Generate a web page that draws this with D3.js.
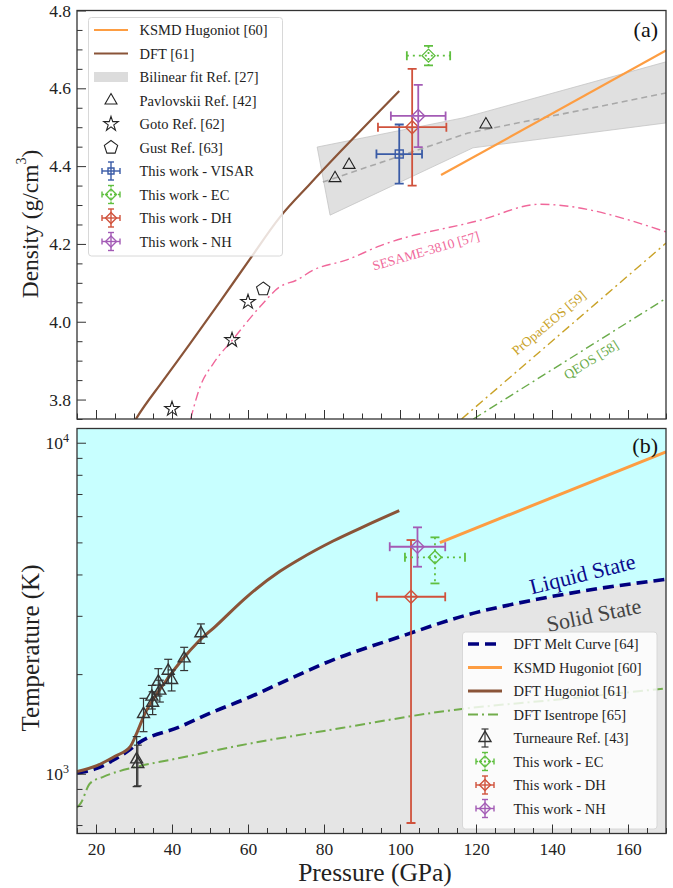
<!DOCTYPE html>
<html>
<head>
<meta charset="utf-8">
<script src="https://cdn.jsdelivr.net/npm/d3@7"></script>
<style>
  body { margin: 0; background: #fff; }
  svg text { font-family: "Liberation Serif", "DejaVu Serif", serif; }
</style>
</head>
<body>
<svg id="chart" width="673" height="888"></svg>
<script>
// ---------- Panel (a): density vs pressure ----------
const ksmdDensity = [[110.8, 4.377], [170, 4.697]];
const dftDensity = [[30.2, 3.745], [30.7, 3.753], [37.6, 3.848], [44.7, 3.943], [52.6, 4.051], [60.5, 4.161],
                    [68.4, 4.269], [76.3, 4.354], [84.2, 4.436], [92.1, 4.516], [99.8, 4.593]];
const bilinearUpper = [[78.2, 4.449], [116.6, 4.524], [170, 4.668]];
const bilinearLower = [[81.6, 4.274], [119.2, 4.447], [170, 4.511]];
const bilinearFit = [[79.7, 4.359], [117.9, 4.485], [170, 4.588]];
const pavlovskii = [[82.9, 4.369], [86.6, 4.403], [122.6, 4.507]];
const gotoPts = [[40.0, 3.776], [55.8, 3.953], [60.0, 4.051]];
const gustPts = [[64.0, 4.084]];
const sesame = [[44.9, 3.75], [47.4, 3.833], [50.9, 3.893], [55.9, 3.953], [63.2, 4.039], [68.4, 4.09],
                [72.8, 4.107], [77.2, 4.133], [86.0, 4.159], [94.7, 4.195], [121.1, 4.261], [136.8, 4.302], [170, 4.231]];
const propacEos = [[116.2, 3.75], [170, 4.202]];
const qeos = [[119.3, 3.75], [170, 4.06]];
// this work: [pressure, pressure error, density, density error]
const visarDensity = [99.8, 6.0, 4.431, 0.076];
const ecDensity = [107.5, 5.7, 4.684, 0.025];
const dhDensity = [103.2, 9.0, 4.50, 0.15];
const nhDensity = [104.8, 7.2, 4.529, 0.08];
const modelLabelsA = [
  { text: "SESAME-3810 [57]", p: 106.8, v: 4.182, angle: -16, color: "#f0679a" },
  { text: "PrOpacEOS [59]", p: 139.2, v: 3.997, angle: -40, color: "#c9a227" },
  { text: "QEOS [58]", p: 150.3, v: 3.902, angle: -32, color: "#6aab4a" }
];
const legendA = ["KSMD Hugoniot [60]", "DFT [61]", "Bilinear fit Ref. [27]", "Pavlovskii Ref. [42]",
                 "Goto Ref. [62]", "Gust Ref. [63]", "This work - VISAR", "This work - EC",
                 "This work - DH", "This work - NH"];

// ---------- Panel (b): temperature vs pressure ----------
const meltCurve = [[15, 1005], [20.2, 1038], [24.6, 1100], [29, 1185], [30.2, 1215], [31.1, 1236], [42.1, 1387],
                   [50.9, 1539], [59.7, 1690], [68.4, 1876], [81.6, 2190], [100, 2594], [117.6, 3017],
                   [135.1, 3348], [152.6, 3631], [170, 3867]];
const ksmdTemp = [[110.5, 4990], [170, 9390]];
const dftHugTemp = [[15, 1015], [20.2, 1058], [25, 1130], [29, 1207], [30.7, 1324], [32.9, 1522], [35.5, 1709],
                    [39.0, 1950], [42.6, 2206], [46.9, 2505], [51.3, 2780], [59.7, 3425], [68.4, 4087],
                    [73.7, 4456], [82.4, 5047], [91.3, 5636], [99.8, 6232]];
const isentrope = [[15, 790], [16, 815], [18.4, 935], [21.9, 979], [30.7, 1050], [40, 1104], [59.7, 1229],
                   [85, 1377], [110.5, 1539], [144.7, 1690], [170, 1811]];
// Turneaure: [pressure, temperature, temperature error]
const turneaure = [[47.6, 2656, 180], [43.2, 2230, 180], [39.0, 2047, 170], [39.9, 1919, 140], [36.4, 1897, 180],
                   [36.8, 1782, 135], [34.7, 1709, 140], [34.9, 1639, 130], [32.5, 1515, 175],
                   [30.7, 1105, 190], [31.0, 1070, 150]];
// this work: [pressure, pressure error, temperature, lower T, upper T]
const ecTemp = [109.2, 7.9, 4507, 3758, 5178];
const dhTemp = [102.9, 9.0, 3425, 710, 5082];
const nhTemp = [104.6, 7.3, 4851, 4221, 5551];
const stateLabels = [
  { text: "Liquid State", p: 148.0, T: 4012, angle: -14, color: "#0a0a8c" },
  { text: "Solid State", p: 151.0, T: 3017, angle: -11.5, color: "#444444" }
];
const legendB = ["DFT Melt Curve [64]", "KSMD Hugoniot [60]", "DFT Hugoniot [61]", "DFT Isentrope [65]",
                 "Turneaure Ref. [43]", "This work - EC", "This work - DH", "This work - NH"];

const xMajor = [20, 40, 60, 80, 100, 120, 140, 160];
const yMajorA = [3.8, 4.0, 4.2, 4.4, 4.6, 4.8];
const yMajorB = [1000, 10000];
const yMinorB = [700, 800, 900, 2000, 3000, 4000, 5000, 6000, 7000, 8000, 9000];

// ---------- colours ----------
const C = {
  orange: "#fd9d42", brown: "#8a5438", blue: "#3a5ba6", green: "#5fbf3f", red: "#d0523c",
  purple: "#a35bb5", navy: "#00007f", isen: "#72ad4c", cyan: "#c8ffff", solid: "#e5e5e5", axis: "#333"
};

const svg = d3.select("#chart");
const L = 77, R = 666;
const topA = 10.5, botA = 419, topB = 428.5, botB = 833.5;

const x = d3.scaleLinear().domain([15, 170]).range([L, R]);
const yA = d3.scaleLinear().domain([3.75, 4.8]).range([botA, topA]);
const yB = d3.scaleLog().domain([660, 11040]).range([botB, topB]);

const defs = svg.append("defs");
defs.append("clipPath").attr("id", "clipA").append("rect")
  .attr("x", L).attr("y", topA).attr("width", R - L).attr("height", botA - topA);
defs.append("clipPath").attr("id", "clipB").append("rect")
  .attr("x", L).attr("y", topB).attr("width", R - L).attr("height", botB - topB);

// ---------- helpers ----------
function diamondPath(r) { return `M0,${-r}L${r},0L0,${r}L${-r},0Z`; }
function pentagonPath(r) {
  const pts = d3.range(5).map(i => { const a = -Math.PI / 2 + i * 2 * Math.PI / 5; return [r * Math.cos(a), r * Math.sin(a)]; });
  return "M" + pts.map(p => p.join(",")).join("L") + "Z";
}
const triPath = d3.symbol(d3.symbolTriangle, 62)();
const starPath = d3.symbol(d3.symbolStar, 66)();
const squarePath = "M-4,-4H4V4H-4Z";

function marker(g, cx, cy, path, color, w) {
  g.append("path").attr("d", path).attr("transform", `translate(${cx},${cy})`)
    .attr("fill", "none").attr("stroke", color).attr("stroke-width", w || 1.3);
}

// cross-shaped error bar in pixel coordinates
function errCross(g, cx, cy, x0, x1, y0, y1, color, opts) {
  const o = Object.assign({ cap: 4.5, w: 1.8, dash: null, path: null }, opts || {});
  const h = g.append("g").attr("stroke", color).attr("stroke-width", o.w).attr("fill", "none");
  const seg = (a, b, c, d, dashed) => {
    const l = h.append("line").attr("x1", a).attr("y1", b).attr("x2", c).attr("y2", d);
    if (dashed && o.dash) l.attr("stroke-dasharray", o.dash);
  };
  if (x0 !== null) {
    seg(x0, cy, x1, cy, true);
    seg(x0, cy - o.cap, x0, cy + o.cap, false);
    seg(x1, cy - o.cap, x1, cy + o.cap, false);
  }
  seg(cx, y0, cx, y1, true);
  seg(cx - o.cap, y0, cx + o.cap, y0, false);
  seg(cx - o.cap, y1, cx + o.cap, y1, false);
  if (o.path) marker(g, cx, cy, o.path, color, 1.4);
}

function lineGen(ys, curve) {
  return d3.line().x(d => x(d[0])).y(d => ys(d[1])).curve(curve || d3.curveLinear);
}
const smooth = d3.curveMonotoneX;

// ================= PANEL (a) =================
const gA = svg.append("g");
const pA = gA.append("g").attr("clip-path", "url(#clipA)");

// bilinear-fit band
const band = bilinearUpper.concat(bilinearLower.slice().reverse());
pA.append("path").attr("d", lineGen(yA)(band) + "Z")
  .attr("fill", "#d6d6d6").attr("fill-opacity", 0.75).attr("stroke", "#c4c4c4").attr("stroke-width", 0.8);
pA.append("path").attr("d", lineGen(yA)(bilinearFit)).attr("fill", "none")
  .attr("stroke", "#a8a8a8").attr("stroke-width", 1.6).attr("stroke-dasharray", "6,4");

pA.append("path").attr("d", lineGen(yA, smooth)(sesame)).attr("fill", "none")
  .attr("stroke", "#f0679a").attr("stroke-width", 1.4).attr("stroke-dasharray", "9,4,2,4");
pA.append("path").attr("d", lineGen(yA)(propacEos)).attr("fill", "none")
  .attr("stroke", "#c9a227").attr("stroke-width", 1.4).attr("stroke-dasharray", "9,4,2,4");
pA.append("path").attr("d", lineGen(yA)(qeos)).attr("fill", "none")
  .attr("stroke", "#6aab4a").attr("stroke-width", 1.4).attr("stroke-dasharray", "9,4,2,4");

pA.append("path").attr("d", lineGen(yA, smooth)(dftDensity)).attr("fill", "none")
  .attr("stroke", C.brown).attr("stroke-width", 2.2);
pA.append("path").attr("d", lineGen(yA)(ksmdDensity)).attr("fill", "none")
  .attr("stroke", C.orange).attr("stroke-width", 2.2);

pavlovskii.forEach(d => marker(pA, x(d[0]), yA(d[1]), triPath, "#222", 1.1));
gotoPts.forEach(d => marker(pA, x(d[0]), yA(d[1]), starPath, "#222", 1.1));
gustPts.forEach(d => marker(pA, x(d[0]), yA(d[1]), pentagonPath(7), "#222", 1.1));

function workA(d, color, path, dash) {
  errCross(pA, x(d[0]), yA(d[2]), x(d[0] - d[1]), x(d[0] + d[1]), yA(d[2] + d[3]), yA(d[2] - d[3]),
    color, { path: path, dash: dash });
}
workA(visarDensity, C.blue, squarePath);
workA(dhDensity, C.red, diamondPath(6.5));
workA(nhDensity, C.purple, diamondPath(6.5));
workA(ecDensity, C.green, diamondPath(6.5), "2,4");

modelLabelsA.forEach(l => {
  gA.append("text").attr("transform", `translate(${x(l.p)},${yA(l.v)}) rotate(${l.angle})`)
    .attr("text-anchor", "middle").attr("dominant-baseline", "central")
    .attr("font-size", 13.5).attr("fill", l.color).text(l.text);
});

gA.append("text").attr("x", 658).attr("y", 37).attr("text-anchor", "end")
  .attr("font-size", 22).attr("fill", "#111").text("(a)");

// legend (a)
const lgA = gA.append("g");
lgA.append("rect").attr("x", 88.5).attr("y", 17.5).attr("width", 194).attr("height", 238.5).attr("rx", 3)
  .attr("fill", "#fff").attr("fill-opacity", 0.82).attr("stroke", "#d8d8d8");
legendA.forEach((t, i) => {
  const cy = 30 + i * 23.5, cx = 111;
  lgA.append("text").attr("x", 139.5).attr("y", cy).attr("dominant-baseline", "central")
    .attr("font-size", 14.5).attr("fill", "#222").text(t);
  if (i === 0 || i === 1) {
    lgA.append("line").attr("x1", 94).attr("x2", 128).attr("y1", cy).attr("y2", cy)
      .attr("stroke", i === 0 ? C.orange : C.brown).attr("stroke-width", 2.2);
  } else if (i === 2) {
    lgA.append("rect").attr("x", 94).attr("y", cy - 5).attr("width", 34).attr("height", 10).attr("fill", "#dcdcdc");
  } else if (i === 3) marker(lgA, cx, cy, triPath, "#222", 1.1);
  else if (i === 4) marker(lgA, cx, cy, starPath, "#222", 1.1);
  else if (i === 5) marker(lgA, cx, cy, pentagonPath(7), "#222", 1.1);
  else {
    const col = [C.blue, C.green, C.red, C.purple][i - 6];
    const path = i === 6 ? "M-3,-3H3V3H-3Z" : diamondPath(5.5);
    errCross(lgA, cx, cy, cx - 9, cx + 9, cy - 9, cy + 9, col,
      { cap: 3, w: 1.4, path: path, dash: i === 7 ? "2,2" : null });
  }
});

// frame and axes (a)
gA.append("rect").attr("x", L).attr("y", topA).attr("width", R - L).attr("height", botA - topA)
  .attr("fill", "none").attr("stroke", C.axis).attr("stroke-width", 1.3);

function xAxis(g, y0, labels) {
  const minor = d3.range(15, 171, 5).filter(v => v % 20 !== 0);
  g.append("g").attr("transform", `translate(0,${y0})`)
    .call(d3.axisBottom(x).tickValues(minor).tickSize(-5.5).tickFormat(""))
    .call(s => s.select(".domain").remove()).attr("color", C.axis);
  const maj = g.append("g").attr("transform", `translate(0,${y0})`)
    .call(d3.axisBottom(x).tickValues(xMajor).tickSize(-9).tickPadding(9)
      .tickFormat(labels ? d3.format("d") : ""))
    .call(s => s.select(".domain").remove()).attr("color", C.axis);
  maj.attr("font-size", 17.5).attr("font-family", "Liberation Serif, serif");
  maj.selectAll("text").attr("fill", "#222");
}
xAxis(gA, botA, false);

const minorA = d3.range(75, 97).map(i => +(i * 0.05).toFixed(2)).filter(v => !yMajorA.some(m => Math.abs(m - v) < 1e-6));
gA.append("g").attr("transform", `translate(${L},0)`)
  .call(d3.axisLeft(yA).tickValues(minorA).tickSize(-5.5).tickFormat(""))
  .call(s => s.select(".domain").remove()).attr("color", C.axis);
gA.append("g").attr("transform", `translate(${L},0)`)
  .call(d3.axisLeft(yA).tickValues(yMajorA).tickSize(-9).tickPadding(6).tickFormat(d3.format(".1f")))
  .call(s => s.select(".domain").remove()).attr("color", C.axis)
  .attr("font-size", 17.5).attr("font-family", "Liberation Serif, serif")
  .call(s => s.selectAll("text").attr("fill", "#222"));

const tA = gA.append("text").attr("transform", "translate(30,224) rotate(-90)")
  .attr("text-anchor", "middle").attr("dominant-baseline", "central").attr("font-size", 23.5).attr("fill", "#222");
tA.append("tspan").text("Density (g/cm");
tA.append("tspan").attr("font-size", 14).attr("dy", -9).text("3");
tA.append("tspan").attr("dy", 9).text(")");

// ================= PANEL (b) =================
const gB = svg.append("g");
const pB = gB.append("g").attr("clip-path", "url(#clipB)");

pB.append("path").attr("fill", C.cyan)
  .attr("d", d3.area().x(d => x(d[0])).y0(topB).y1(d => yB(d[1])).curve(smooth)(meltCurve));
pB.append("path").attr("fill", C.solid)
  .attr("d", d3.area().x(d => x(d[0])).y0(botB).y1(d => yB(d[1])).curve(smooth)(meltCurve));

pB.append("path").attr("d", lineGen(yB, smooth)(isentrope)).attr("fill", "none")
  .attr("stroke", C.isen).attr("stroke-width", 2).attr("stroke-dasharray", "10,4,2,4");
pB.append("path").attr("d", lineGen(yB, smooth)(meltCurve)).attr("fill", "none")
  .attr("stroke", C.navy).attr("stroke-width", 3.6).attr("stroke-dasharray", "11,6");
pB.append("path").attr("d", lineGen(yB)(ksmdTemp)).attr("fill", "none")
  .attr("stroke", C.orange).attr("stroke-width", 3);
pB.append("path").attr("d", lineGen(yB, smooth)(dftHugTemp)).attr("fill", "none")
  .attr("stroke", C.brown).attr("stroke-width", 3);

turneaure.forEach(d => {
  errCross(pB, x(d[0]), yB(d[1]), null, null, yB(d[1] + d[2]), yB(d[1] - d[2]), "#333",
    { cap: 4, w: 1.2, path: triPath });
});

function workB(d, color, dash) {
  errCross(pB, x(d[0]), yB(d[2]), x(d[0] - d[1]), x(d[0] + d[1]), yB(d[4]), yB(d[3]), color,
    { path: diamondPath(6.5), dash: dash });
}
workB(dhTemp, C.red);
workB(ecTemp, C.green, "2,4");
workB(nhTemp, C.purple);

stateLabels.forEach(l => {
  gB.append("text").attr("transform", `translate(${x(l.p)},${yB(l.T)}) rotate(${l.angle})`)
    .attr("text-anchor", "middle").attr("dominant-baseline", "central")
    .attr("font-size", 22).attr("fill", l.color).text(l.text);
});

gB.append("text").attr("x", 658).attr("y", 453).attr("text-anchor", "end")
  .attr("font-size", 22).attr("fill", "#111").text("(b)");

// legend (b)
const lgB = gB.append("g");
lgB.append("rect").attr("x", 462.5).attr("y", 632).attr("width", 194.5).attr("height", 197).attr("rx", 3)
  .attr("fill", "#fff").attr("fill-opacity", 0.82).attr("stroke", "#d8d8d8");
legendB.forEach((t, i) => {
  const cy = 644 + i * 23.5, cx = 485;
  lgB.append("text").attr("x", 513.5).attr("y", cy).attr("dominant-baseline", "central")
    .attr("font-size", 14.5).attr("fill", "#222").text(t);
  if (i < 4) {
    const st = [[C.navy, 3.6, "11,6"], [C.orange, 3, null], [C.brown, 3, null], [C.isen, 2, "10,4,2,4"]][i];
    const ln = lgB.append("line").attr("x1", 468).attr("x2", 502).attr("y1", cy).attr("y2", cy)
      .attr("stroke", st[0]).attr("stroke-width", st[1]);
    if (st[2]) ln.attr("stroke-dasharray", st[2]);
  } else if (i === 4) {
    errCross(lgB, cx, cy, null, null, cy - 9, cy + 9, "#333", { cap: 3.5, w: 1.2, path: triPath });
  } else {
    const col = [C.green, C.red, C.purple][i - 5];
    errCross(lgB, cx, cy, cx - 9, cx + 9, cy - 9, cy + 9, col,
      { cap: 3, w: 1.4, path: diamondPath(5.5), dash: i === 5 ? "2,2" : null });
  }
});

// frame and axes (b)
gB.append("rect").attr("x", L).attr("y", topB).attr("width", R - L).attr("height", botB - topB)
  .attr("fill", "none").attr("stroke", C.axis).attr("stroke-width", 1.3);
xAxis(gB, botB, true);

gB.append("g").attr("transform", `translate(${L},0)`)
  .call(d3.axisLeft(yB).tickValues(yMinorB).tickSize(-5.5).tickFormat(""))
  .call(s => s.select(".domain").remove()).attr("color", C.axis);
const yAxB = gB.append("g").attr("transform", `translate(${L},0)`)
  .call(d3.axisLeft(yB).tickValues(yMajorB).tickSize(-9).tickPadding(8).tickFormat(() => ""))
  .call(s => s.select(".domain").remove()).attr("color", C.axis)
  .attr("font-size", 17.5).attr("font-family", "Liberation Serif, serif");
yAxB.selectAll(".tick text").each(function (d) {
  const t = d3.select(this).attr("fill", "#222");
  t.append("tspan").text("10");
  t.append("tspan").attr("font-size", 12).attr("dy", -7).text(String(Math.round(Math.log10(d))));
});

gB.append("text").attr("transform", "translate(30,648) rotate(-90)")
  .attr("text-anchor", "middle").attr("dominant-baseline", "central").attr("font-size", 25)
  .attr("fill", "#222").text("Temperature (K)");

svg.append("text").attr("x", 375).attr("y", 881).attr("text-anchor", "middle")
  .attr("font-size", 25.5).attr("fill", "#222").text("Pressure (GPa)");
</script>
</body>
</html>
